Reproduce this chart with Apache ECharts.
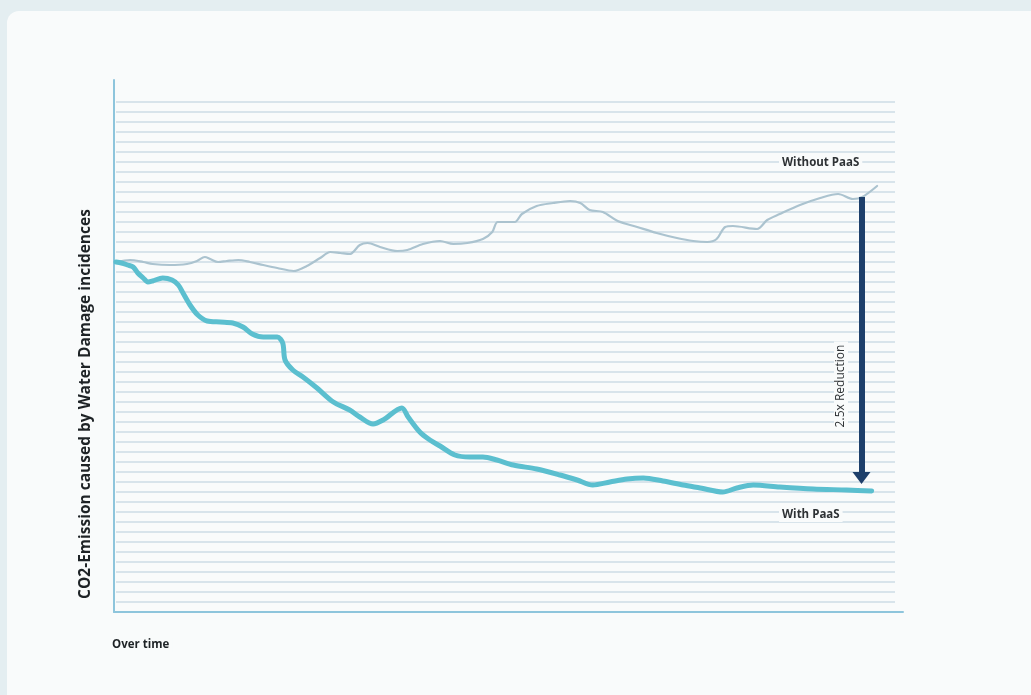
<!DOCTYPE html>
<html>
<head>
<meta charset="utf-8">
<script src="https://cdn.jsdelivr.net/npm/echarts@6/dist/echarts.min.js"></script>
<style>
  html, body { margin: 0; padding: 0; width: 1031px; height: 695px; overflow: hidden; background: #e4eef1; }
  #card { position: absolute; left: 7px; top: 11px; width: 1060px; height: 720px; border-radius: 12px; background: #f9fbfb; }
  #chart { position: absolute; left: 0; top: 0; width: 1031px; height: 695px; }
</style>
</head>
<body>
<div id="card"></div>
<div id="chart"></div>
<script>
// Emission index over time (time in arbitrary units 0-100, emission in grid steps)
const withoutPaasTime = [0, 1.8, 3.5, 4.7, 6.9, 9.1, 10.4, 11.4, 12.1, 13.1, 14.2, 15.7, 17.2, 18.9, 20.7, 22.8, 24.5, 26.2, 27.5, 28.8, 30.0, 31.3, 32.3, 33.9, 36.1, 37.4, 39.4, 41.6, 43.3, 45.1, 47.1, 48.3, 49.0, 51.2, 52.1, 54.0, 56.1, 58.3, 59.6, 60.8, 62.5, 64.4, 66.9, 69.4, 72.0, 74.1, 75.9, 77.1, 78.2, 79.2, 82.3, 83.6, 85.2, 87.8, 90.4, 92.7, 94.6, 95.8, 97.7];
const withoutPaasValue = [35.0, 35.2, 35.0, 34.8, 34.7, 34.8, 35.1, 35.5, 35.3, 35.0, 35.1, 35.2, 35.0, 34.7, 34.4, 34.1, 34.6, 35.4, 36.0, 35.9, 35.8, 36.7, 36.9, 36.5, 36.1, 36.2, 36.8, 37.1, 36.8, 36.9, 37.3, 38.0, 39.0, 39.0, 39.8, 40.6, 40.9, 41.1, 40.9, 40.2, 40.0, 39.1, 38.5, 37.9, 37.4, 37.1, 37.0, 37.3, 38.5, 38.6, 38.3, 39.2, 39.8, 40.7, 41.4, 41.8, 41.3, 41.5, 42.6];

const withPaasTime = [0, 0.7, 1.5, 2.2, 2.8, 3.5, 4.1, 4.7, 6.0, 7.2, 8.0, 8.6, 9.5, 10.5, 11.7, 13.4, 15.0, 16.3, 17.5, 18.9, 20.7, 21.4, 21.7, 22.7, 24.0, 25.8, 27.9, 30.0, 31.3, 33.0, 34.3, 36.7, 37.5, 39.0, 40.3, 41.6, 43.5, 45.4, 47.1, 48.9, 51.0, 54.0, 57.0, 59.2, 61.2, 63.4, 65.6, 67.7, 70.2, 72.8, 75.0, 77.9, 79.7, 81.8, 85.2, 89.5, 93.8, 97.0];
const withPaasValue = [35.0, 34.9, 34.7, 34.5, 33.9, 33.4, 33.0, 33.1, 33.4, 33.2, 32.7, 31.9, 30.7, 29.7, 29.1, 29.0, 28.9, 28.5, 27.8, 27.5, 27.5, 26.9, 25.2, 24.2, 23.5, 22.4, 21.0, 20.2, 19.5, 18.8, 19.2, 20.4, 19.5, 18.0, 17.2, 16.6, 15.7, 15.5, 15.5, 15.2, 14.7, 14.3, 13.7, 13.2, 12.7, 13.0, 13.3, 13.4, 13.1, 12.7, 12.4, 12.0, 12.4, 12.7, 12.5, 12.3, 12.2, 12.1];

// Reduction arrow: time position, start (upper curve) and end (just above lower curve)
const arrowTime = 95.7;
const arrowFrom = 41.5;
const arrowTo = 13.4;

const seriesNames = ['Without PaaS', 'With PaaS'];
const yAxisTitle = 'CO2-Emission caused by Water Damage incidences';
const xAxisTitle = 'Over time';
const arrowText = '2.5x Reduction';

const FONT = '"Open Sans", "Noto Sans", sans-serif';
const CARD = '#f9fbfb';
const zip = (xs, ys) => xs.map((x, i) => [x, ys[i]]);

// text placed over the ruled area, with a card-coloured backing
const note = (opts, text, size, color, weight) => Object.assign({
  type: 'text', silent: true, z: 100,
  style: {
    text: text, fontFamily: FONT, fontSize: size, fontWeight: weight, fill: color,
    backgroundColor: CARD, padding: [1, 3]
  }
}, opts);

const chart = echarts.init(document.getElementById('chart'), null, { renderer: 'canvas' });

const graphics = [
  note({ left: 779, top: 156 }, seriesNames[0], 11.5, '#2e3235', 'bold'),
  note({ left: 779, top: 508 }, seriesNames[1], 11.5, '#2e3235', 'bold'),
  note({ left: 109, top: 638 }, xAxisTitle, 11.5, '#1e2326', 'bold'),
  note({ x: 841, y: 386, rotation: Math.PI / 2 }, arrowText, 12, '#2e3235', 'normal'),
  note({ x: 86, y: 404, rotation: Math.PI / 2 }, yAxisTitle, 15.5, '#1e2326', 'bold')
];
graphics[3].style.align = 'center';
graphics[3].style.verticalAlign = 'middle';
graphics[4].style.align = 'center';
graphics[4].style.verticalAlign = 'middle';
graphics[4].style.backgroundColor = 'transparent';

chart.setOption({
  animation: false,
  backgroundColor: 'transparent',
  grid: [
    // frame with the two axis lines
    { left: 114, right: 128, top: 80, bottom: 83 },
    // plotting area with the ruled lines
    { left: 116, right: 136, top: 102, bottom: 83 }
  ],
  xAxis: [
    {
      gridIndex: 0, type: 'value', min: 0, max: 100,
      axisLine: { show: true, onZero: false, lineStyle: { color: '#8ec5dc', width: 2 } },
      axisTick: { show: false }, axisLabel: { show: false }, splitLine: { show: false }
    },
    {
      gridIndex: 1, type: 'value', min: 0, max: 100,
      axisLine: { show: false }, axisTick: { show: false }, axisLabel: { show: false }, splitLine: { show: false }
    }
  ],
  yAxis: [
    {
      gridIndex: 0, type: 'value', min: 0, max: 1,
      axisLine: { show: true, lineStyle: { color: '#8ec5dc', width: 2 } },
      axisTick: { show: false }, axisLabel: { show: false }, splitLine: { show: false }
    },
    {
      gridIndex: 1, type: 'value', min: 0, max: 51, interval: 1,
      axisLine: { show: false }, axisTick: { show: false }, axisLabel: { show: false },
      splitLine: { show: true, lineStyle: { color: '#d8e4eb', width: 2 } }
    }
  ],
  series: [
    {
      name: seriesNames[0], type: 'line', xAxisIndex: 1, yAxisIndex: 1,
      data: zip(withoutPaasTime, withoutPaasValue),
      smooth: 0.3, showSymbol: false, z: 3,
      lineStyle: { color: '#abc3cf', width: 2.2, cap: 'round', join: 'round' }
    },
    {
      name: seriesNames[1], type: 'line', xAxisIndex: 1, yAxisIndex: 1,
      data: zip(withPaasTime, withPaasValue),
      smooth: 0.3, showSymbol: false, z: 4,
      lineStyle: { color: '#5bbfcf', width: 5, cap: 'round', join: 'round' },
      markLine: {
        silent: true, animation: false,
        symbol: ['none', 'triangle'], symbolSize: [18, 12],
        label: { show: false },
        lineStyle: { color: '#1d3f6b', width: 6, type: 'solid' },
        itemStyle: { color: '#1d3f6b' },
        data: [[{ coord: [arrowTime, arrowFrom] }, { coord: [arrowTime, arrowTo] }]]
      }
    }
  ],
  graphic: graphics
});
</script>
</body>
</html>
